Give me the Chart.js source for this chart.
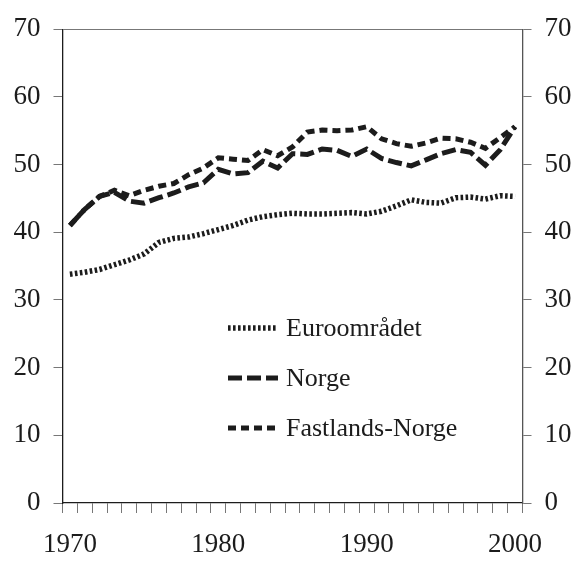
<!DOCTYPE html>
<html>
<head>
<meta charset="utf-8">
<script src="https://cdn.jsdelivr.net/npm/chart.js@4"></script>
<style>
  body { margin: 0; background: #fff; }
</style>
</head>
<body>
<canvas id="chart" width="583" height="563"></canvas>
<script>
// years 1970 - 2000
const years = [];
for (let y = 1970; y <= 2000; y++) years.push(String(y));

const euroomradet = [33.8, 34.1, 34.5, 35.2, 35.9, 36.8, 38.5, 39.1, 39.3, 39.8,
  40.4, 41.0, 41.8, 42.3, 42.6, 42.8, 42.7, 42.7, 42.8, 42.9,
  42.7, 43.1, 43.9, 44.8, 44.4, 44.3, 45.1, 45.2, 44.9, 45.4, 45.3];

const norge = [41.0, 43.4, 45.3, 45.9, 44.6, 44.3, 45.1, 45.8, 46.7, 47.3,
  49.3, 48.6, 48.8, 50.5, 49.5, 51.6, 51.5, 52.3, 52.1, 51.2,
  52.3, 50.9, 50.3, 49.8, 50.7, 51.6, 52.2, 51.8, 49.9, 52.2, 55.6];

const fastlandsNorge = [41.0, 43.4, 45.3, 46.2, 45.4, 46.2, 46.8, 47.2, 48.5, 49.5,
  51.0, 50.8, 50.6, 52.2, 51.3, 52.6, 54.8, 55.1, 55.0, 55.1,
  55.6, 53.8, 53.1, 52.7, 53.2, 53.9, 53.8, 53.3, 52.4, 54.0, 55.6];

const seriesNames = ['Euroområdet', 'Norge', 'Fastlands-Norge'];

const FONT = '"Liberation Serif", "Times New Roman", serif';
const INK = '#1c1c1c';

// legend drawn inside the plot, stacked
const innerLegend = {
  id: 'innerLegend',
  afterDatasetsDraw(chart) {
    const ctx = chart.ctx;
    chart.data.datasets.forEach((ds, i) => {
      const y = 328 + i * 50;
      ctx.save();
      ctx.strokeStyle = ds.borderColor;
      ctx.lineWidth = ds.borderWidth;
      ctx.setLineDash(ds.borderDash);
      ctx.beginPath();
      ctx.moveTo(228, y);
      ctx.lineTo(278, y);
      ctx.stroke();
      ctx.setLineDash([]);
      ctx.fillStyle = INK;
      ctx.font = '26px ' + FONT;
      ctx.textBaseline = 'middle';
      ctx.fillText(ds.label, 286, y + 1);
      ctx.restore();
    });
  }
};

const yTicks = {
  stepSize: 10,
  padding: 13,
  color: INK,
  font: { family: FONT, size: 27 }
};

new Chart(document.getElementById('chart'), {
  type: 'line',
  data: {
    labels: years,
    datasets: [
      {
        label: seriesNames[0],
        data: euroomradet,
        borderColor: INK,
        borderWidth: 5.5,
        borderDash: [2.6, 2.4],
      },
      {
        label: seriesNames[1],
        data: norge,
        borderColor: INK,
        borderWidth: 5,
        borderDash: [14, 5],
      },
      {
        label: seriesNames[2],
        data: fastlandsNorge,
        borderColor: INK,
        borderWidth: 5,
        borderDash: [8, 5],
      },
    ],
  },
  options: {
    responsive: false,
    animation: false,
    devicePixelRatio: 1,
    layout: { padding: { top: 26, left: 0, right: 0, bottom: 0 } },
    elements: {
      point: { radius: 0 },
      line: { tension: 0, fill: false, borderCapStyle: 'butt' },
    },
    plugins: {
      legend: { display: false },
      tooltip: { enabled: false },
    },
    scales: {
      x: {
        type: 'category',
        offset: true,
        afterFit: (s) => { s.height = 60; },
        grid: {
          offset: true,
          drawOnChartArea: false,
          tickLength: 10,
          color: '#777',
        },
        border: { color: INK, width: 1.3 },
        ticks: {
          autoSkip: false,
          maxRotation: 0,
          padding: 16,
          color: INK,
          font: { family: FONT, size: 27 },
          callback: function (val) {
            const lbl = this.getLabelForValue(val);
            return Number(lbl) % 10 === 0 ? lbl : '';
          },
        },
      },
      y: {
        position: 'left',
        min: 0,
        max: 70,
        afterFit: (s) => { s.width = 62.5; },
        grid: {
          tickLength: 9,
          tickColor: '#777',
          color: (c) => (c.tick && c.tick.value === 70 ? '#777' : 'rgba(0,0,0,0)'),
        },
        border: { color: INK, width: 1.3 },
        ticks: yTicks,
      },
      y2: {
        position: 'right',
        min: 0,
        max: 70,
        afterFit: (s) => { s.width = 60.5; },
        grid: { drawOnChartArea: false, tickLength: 9, color: '#777' },
        border: { color: '#555', width: 1.3 },
        ticks: yTicks,
      },
    },
  },
  plugins: [innerLegend],
});
</script>
</body>
</html>
